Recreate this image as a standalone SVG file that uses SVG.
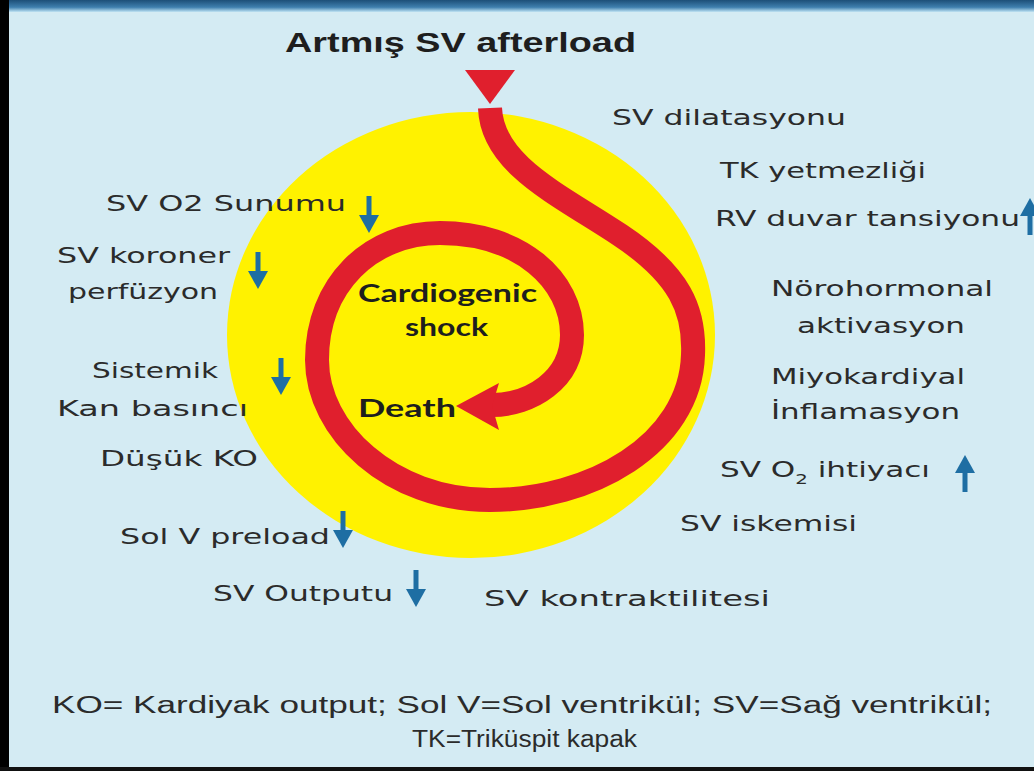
<svg xmlns="http://www.w3.org/2000/svg" width="1034" height="771" viewBox="0 0 1034 771">
<defs>
<linearGradient id="topbar" x1="0" y1="0" x2="0" y2="1">
<stop offset="0" stop-color="#1d4f78"/><stop offset="0.6" stop-color="#3f7fae"/><stop offset="1" stop-color="#bfe3f3"/>
</linearGradient>
<g id="down"><rect x="-2.5" y="0" width="5" height="24" fill="#1e6ea3"/><polygon points="-10,19 10,19 0,37" fill="#1e6ea3"/></g>
<g id="up"><rect x="-2.5" y="13" width="5" height="24" fill="#1e6ea3"/><polygon points="-10,18 10,18 0,0" fill="#1e6ea3"/></g>
<style>
.lbl{font-family:"DejaVu Sans","Liberation Sans",sans-serif;font-size:22px;fill:#2b2b2b}
.bold{font-family:"Lato","Open Sans",sans-serif;font-weight:bold;font-size:25px;fill:#1e1e1e}
.title{font-family:"Liberation Sans",Arial,sans-serif;font-weight:bold;font-size:27px;fill:#1e1e1e}
.foot{font-family:"Liberation Sans",Arial,sans-serif;font-size:23px;fill:#2b2b2b}
.red{fill:#e01f2d}
</style>
</defs>
<rect x="0" y="0" width="1034" height="771" fill="#d4ebf3"/>
<rect x="0" y="0" width="1034" height="12" fill="url(#topbar)"/>
<rect x="0" y="0" width="9" height="771" fill="#000"/>
<rect x="0" y="767" width="1034" height="4" fill="#111"/>

<g id="title-node">
<text class="title" x="285" y="52" textLength="351" lengthAdjust="spacingAndGlyphs">Artmış SV afterload</text>
<polygon class="red" points="465,70 515,70 490,104"/>
</g>

<g id="cycle-node">
<ellipse cx="471" cy="335" rx="244" ry="223" fill="#fff200"/>
</g>

<g id="connectors">
<path d="M 490 108 C 492 165, 560 195, 620 235 C 680 275, 695 310, 693 355 C 690 445, 590 500, 490 500 C 390 500, 317 430, 317 360 C 317 285, 370 233, 440 233 C 520 233, 572 280, 572 335 C 572 380, 530 405, 492 405" fill="none" stroke="#e01f2d" stroke-width="24"/>
<polygon class="red" points="456,406 499,383 492,406 499,430"/>
</g>

<g id="center-labels">
<text class="bold" x="358" y="302" textLength="179" lengthAdjust="spacingAndGlyphs">Cardiogenic</text>
<text class="bold" x="405" y="336" textLength="83" lengthAdjust="spacingAndGlyphs">shock</text>
<text class="bold" x="358" y="417" textLength="98" lengthAdjust="spacingAndGlyphs">Death</text>
</g>

<g id="right-labels">
<text class="lbl" x="612" y="125" textLength="234" lengthAdjust="spacingAndGlyphs">SV dilatasyonu</text>
<text class="lbl" x="720" y="178" textLength="206" lengthAdjust="spacingAndGlyphs">TK yetmezliği</text>
<text class="lbl" x="715" y="226" textLength="305" lengthAdjust="spacingAndGlyphs">RV duvar tansiyonu</text>
<use href="#up" x="1030" y="198"/>
<text class="lbl" x="771" y="296" textLength="222" lengthAdjust="spacingAndGlyphs">Nörohormonal</text>
<text class="lbl" x="797" y="333" textLength="168" lengthAdjust="spacingAndGlyphs">aktivasyon</text>
<text class="lbl" x="771" y="384" textLength="194" lengthAdjust="spacingAndGlyphs">Miyokardiyal</text>
<text class="lbl" x="771" y="419" textLength="189" lengthAdjust="spacingAndGlyphs">İnflamasyon</text>
<text class="lbl" x="720" y="477" textLength="210" lengthAdjust="spacingAndGlyphs">SV O<tspan font-size="14" dy="7">2</tspan><tspan dy="-7"> ihtiyacı</tspan></text>
<use href="#up" x="965" y="455"/>
<text class="lbl" x="680" y="531" textLength="177" lengthAdjust="spacingAndGlyphs">SV iskemisi</text>
<text class="lbl" x="484" y="606" textLength="286" lengthAdjust="spacingAndGlyphs">SV kontraktilitesi</text>
</g>

<g id="left-labels">
<text class="lbl" x="106" y="211" textLength="240" lengthAdjust="spacingAndGlyphs">SV O2 Sunumu</text>
<use href="#down" x="369" y="196"/>
<text class="lbl" x="57" y="263" textLength="173" lengthAdjust="spacingAndGlyphs">SV koroner</text>
<text class="lbl" x="68" y="299" textLength="150" lengthAdjust="spacingAndGlyphs">perfüzyon</text>
<use href="#down" x="258" y="252"/>
<text class="lbl" x="92" y="378" textLength="126" lengthAdjust="spacingAndGlyphs">Sistemik</text>
<text class="lbl" x="57" y="416" textLength="191" lengthAdjust="spacingAndGlyphs">Kan basıncı</text>
<use href="#down" x="281" y="358"/>
<text class="lbl" x="100" y="466" textLength="158" lengthAdjust="spacingAndGlyphs">Düşük KO</text>
<text class="lbl" x="120" y="544" textLength="210" lengthAdjust="spacingAndGlyphs">Sol V preload</text>
<use href="#down" x="343" y="511"/>
<text class="lbl" x="213" y="601" textLength="180" lengthAdjust="spacingAndGlyphs">SV Outputu</text>
<use href="#down" x="416" y="570"/>
</g>

<g id="legend">
<text class="foot" x="52" y="713" textLength="940" lengthAdjust="spacingAndGlyphs">KO= Kardiyak output; Sol V=Sol ventrikül; SV=Sağ ventrikül;</text>
<text class="foot" x="412" y="747" textLength="225" lengthAdjust="spacingAndGlyphs">TK=Triküspit kapak</text>
</g>
</svg>
